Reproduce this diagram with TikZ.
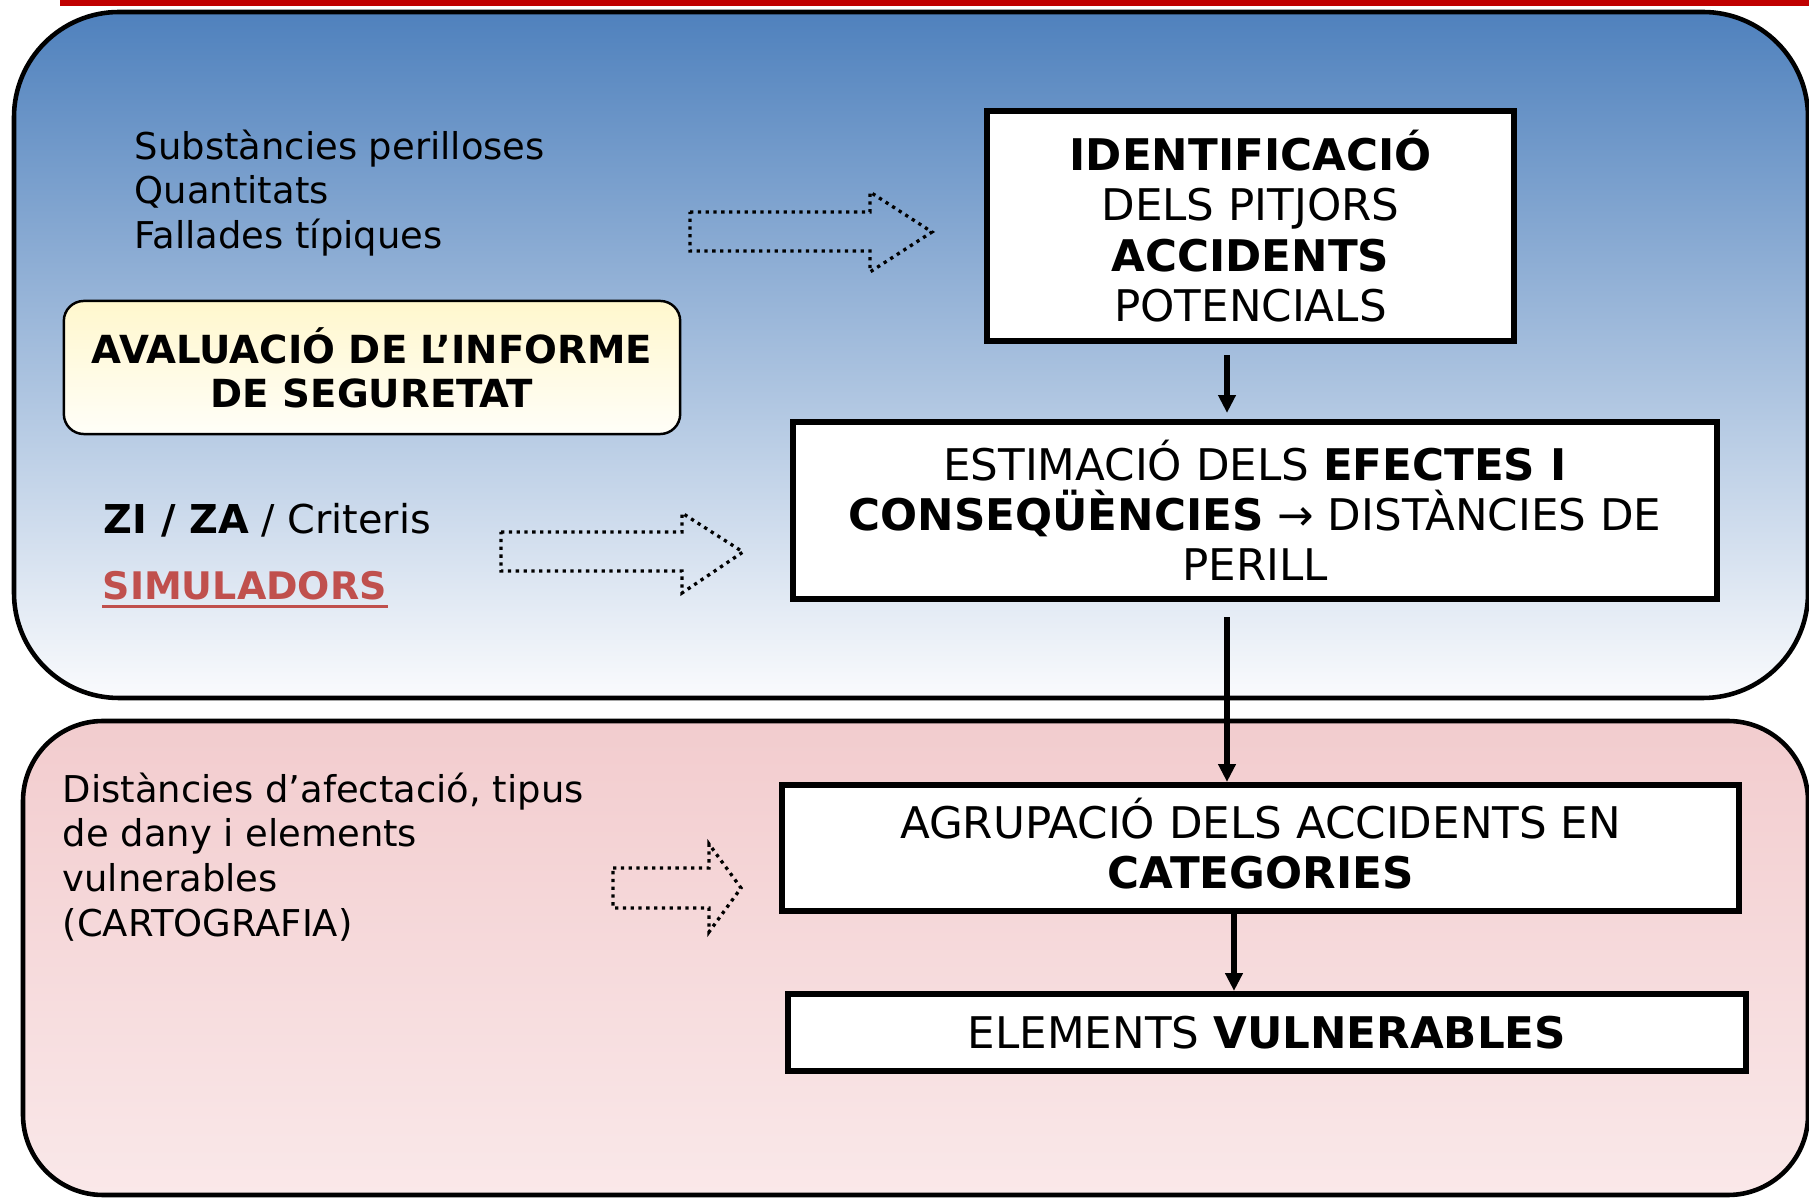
\documentclass[tikz,border=0pt]{standalone}
\usepackage{fontspec}
\setmainfont{DejaVu Sans}
\usepackage{tikz}
\usetikzlibrary{arrows.meta}
\definecolor{barred}{RGB}{192,0,0}
\definecolor{bluetop}{RGB}{79,129,189}
\definecolor{bluemid}{RGB}{178,197,227}
\definecolor{bluebot}{RGB}{250,251,253}
\definecolor{pinktop}{RGB}{242,204,206}
\definecolor{pinkbot}{RGB}{250,232,233}
\definecolor{yeltop}{RGB}{255,247,205}
\definecolor{yelbot}{RGB}{255,254,248}
\definecolor{simred}{RGB}{192,80,77}
\newcommand{\boxfont}{\fontsize{12.4}{14.3}\selectfont}
\newcommand{\notefont}{\fontsize{10.5}{12.7}\selectfont}
\newcommand{\keyfont}{\fontsize{10.8}{13}\selectfont}
\newcommand{\titlefont}{\fontsize{11}{12.5}\selectfont\bfseries}

\begin{document}
\begin{tikzpicture}[x=0.01cm, y=-0.01cm,
  panel/.style={draw, line width=1.3pt},
  box/.style={draw, line width=1.7pt, fill=white, align=center, inner sep=0pt, font=\boxfont},
  note/.style={align=left, anchor=west, inner sep=0pt, font=\notefont},
  hollow/.style={line width=0.94pt, dash pattern=on 0.94pt off 1.28pt},
  flow/.style={->, line width=1.7pt, >={Triangle[length=5.1pt,width=4.8pt]}}]
  \useasboundingbox (0,0) rectangle (1809,1198);
  \fill [barred] (60,0) rectangle (1809,6);
  \path [panel, rounded corners=1.05cm, top color=bluetop, middle color=bluemid, bottom color=bluebot] (14,12) rectangle (1808,698);
  \path [panel, rounded corners=0.8cm, top color=pinktop, bottom color=pinkbot] (23,721) rectangle (1808,1195);
  \node [box, minimum width=5.27cm, minimum height=2.30cm] (AC) at (1250.5,226) {\textbf{IDENTIFICACIÓ}\\DELS PITJORS\\\textbf{ACCIDENTS}\\POTENCIALS};
  \node [box, minimum width=9.24cm, minimum height=1.77cm] (CC) at (1255,510.5) {ESTIMACIÓ DELS \textbf{EFECTES I}\\\textbf{CONSEQÜÈNCIES} → DISTÀNCIES DE\\PERILL};
  \node [box, minimum width=9.57cm, minimum height=1.26cm] (DC) at (1260.5,848) {AGRUPACIÓ DELS ACCIDENTS EN\\\textbf{CATEGORIES}\vphantom{g}};
  \node [box, minimum width=9.58cm, minimum height=0.77cm] (EC) at (1267,1032.5) {ELEMENTS \textbf{VULNERABLES}};
  \node [draw, line width=0.7pt, rounded corners=0.2cm, top color=yeltop, bottom color=yelbot, align=center, inner sep=0pt, minimum width=6.16cm, minimum height=1.33cm, font=\titlefont] (BA) at (372,367.5) {AVALUACIÓ DE L’INFORME\\DE SEGURETAT};
  \node [note] (AA) at (134,193) {Substàncies perilloses\\Quantitats\\Fallades típiques};
  \node [note, font=\fontsize{11.3}{13}\selectfont] (CA) at (103,520) {\textbf{ZI / ZA} / Criteris};
  \node [note, font=\keyfont\bfseries, text=simred] (CB) at (102,586) {SIMULADORS};
  \node [note] (DA) at (62,857) {Distàncies d’afectació, tipus\\de dany i elements\\vulnerables\\(CARTOGRAFIA)};
  \draw [simred, line width=0.9pt] ([yshift=-1.8pt]CB.base west) -- ([yshift=-1.8pt]CB.base east);
  \coordinate (XA) at (1227,0);
  \coordinate (XB) at (1234,0);
  \draw [flow, shorten <=0.11cm, shorten >=0.06cm] (XA |- AC.south) -- (XA |- CC.north);
  \draw [flow, shorten <=0.15cm] (XA |- CC.south) -- (XA |- DC.north);
  \draw [flow] (XB |- DC.south) -- (XB |- EC.north);
  \draw [hollow] (690,212) -- (870,212) -- (870,192) -- (932,232) -- (870,272) -- (870,251) -- (690,251) -- cycle;
  \draw [hollow] (501,532) -- (682,532) -- (682,513) -- (743,552) -- (682,593) -- (682,571) -- (501,571) -- cycle;
  \draw [hollow] (613,868) -- (709,868) -- (709,844) -- (741,888) -- (709,932) -- (709,908) -- (613,908) -- cycle;
\end{tikzpicture}
\end{document}
